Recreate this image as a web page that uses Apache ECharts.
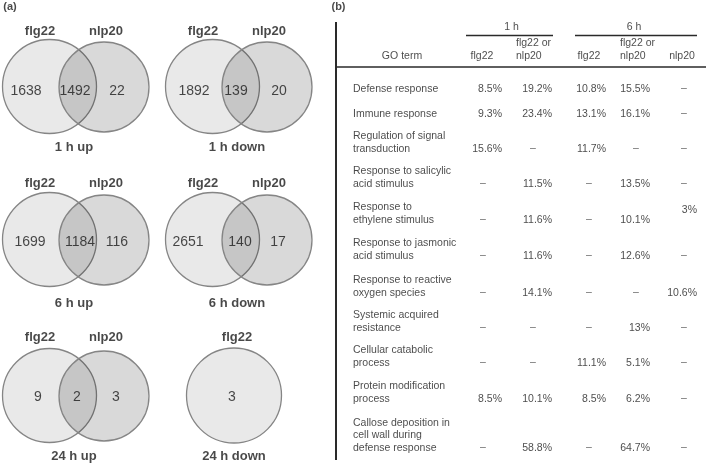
<!DOCTYPE html>
<html><head><meta charset="utf-8">
<script src="https://cdn.jsdelivr.net/npm/echarts@6/dist/echarts.min.js"></script>
<style>html,body{margin:0;padding:0;background:#fff}#c{width:709px;height:466px}</style>
</head><body><div id="c"></div>
<script>
// ---------------- DATA ----------------
const vennTitles = ['1 h up', '1 h down', '6 h up', '6 h down', '24 h up', '24 h down'];
const vennSets = [['flg22', 'nlp20'], ['flg22', 'nlp20'], ['flg22', 'nlp20'], ['flg22', 'nlp20'], ['flg22', 'nlp20'], ['flg22']];
const flg22Only = [1638, 1892, 1699, 2651, 9, 3];
const sharedCounts = [1492, 139, 1184, 140, 2, null];
const nlp20Only = [22, 20, 116, 17, 3, null];

const timeGroups = ['1 h', '6 h'];
const columnHeaders = ['flg22', 'flg22 or\nnlp20', 'flg22', 'flg22 or\nnlp20', 'nlp20'];
const goTerms = [
  'Defense response',
  'Immune response',
  'Regulation of signal\ntransduction',
  'Response to salicylic\nacid stimulus',
  'Response to\nethylene stimulus',
  'Response to jasmonic\nacid stimulus',
  'Response to reactive\noxygen species',
  'Systemic acquired\nresistance',
  'Cellular catabolic\nprocess',
  'Protein modification\nprocess',
  'Callose deposition in\ncell wall during\ndefense response'
];
const flg22_1h  = [8.5, 9.3, 15.6, null, null, null, null, null, null, 8.5, null];
const either_1h = [19.2, 23.4, null, 11.5, 11.6, 11.6, 14.1, null, null, 10.1, 58.8];
const flg22_6h  = [10.8, 13.1, 11.7, null, null, null, null, null, 11.1, 8.5, null];
const either_6h = [15.5, 16.1, null, 13.5, 10.1, 12.6, null, 13, 5.1, 6.2, 64.7];
const nlp20_6h  = [null, null, null, null, 3, null, 10.6, null, null, null, null];

// ---------------- LAYOUT ----------------
const FONT = '"Liberation Sans", Arial, Helvetica, sans-serif';
const W = 709, H = 466;
const colOffsetX = [0, 163];
const rowCircleY = [86.5, 239.5, 395.5];
const rowLabelY = [31, 183, 337];
const rowNumY = [91, 242, 397];
const rowTitleY = [147, 303, 456];
const leftCircle = { dx: 49.5, d: 94 };
const rightCircle = { dx: 104, d: 90, dy: 0.5 };
const singleCircle = { dx: 71, d: 95 };
const setLabelDx = [40, 106];
const singleLabelDx = 74;
const titleDx = 74;
const singleTitleDx = 71;
const numXs = [[26, 75, 117], [194, 236, 279], [30, 80, 117], [188, 240, 278], [38, 77, 116], [232]];

const tableTextX = 353;
const rowLastY = [89, 114, 149, 184, 220, 256, 293, 328, 363, 399, 448];
const lineH = 12.5;
const valueRightX = [502, 552, 606, 650, 697];
const dashX = [483, 533, 589, 636, 684];
const cellDy = { '4,4': -10 };
const headerCenterX = [482, null, 589, null, 682];
const headerLeftX = [null, 516, null, 620, null];
const groupCenterX = [511.5, 634];

// ---------------- BUILD ----------------
const circles = [];
const texts = [];
function addText(x, y, text, opt) {
  texts.push({ value: [x, y], name: String(text), label: Object.assign({}, opt) });
}
const bold13 = { fontSize: 13, fontWeight: 'bold', color: '#1a1a1a' };
const num14 = { fontSize: 14, color: '#1a1a1a' };

vennTitles.forEach((title, i) => {
  const col = i % 2, row = Math.floor(i / 2);
  const ox = colOffsetX[col];
  const cy = rowCircleY[row];
  if (vennSets[i].length === 2) {
    circles.push({ value: [ox + leftCircle.dx, cy, leftCircle.d], itemStyle: { color: 'rgba(0,0,0,0.085)' } });
    circles.push({ value: [ox + rightCircle.dx, cy + rightCircle.dy, rightCircle.d], itemStyle: { color: 'rgba(0,0,0,0.15)' } });
    addText(ox + setLabelDx[0], rowLabelY[row], vennSets[i][0], bold13);
    addText(ox + setLabelDx[1], rowLabelY[row], vennSets[i][1], bold13);
    addText(numXs[i][0], rowNumY[row], flg22Only[i], num14);
    addText(numXs[i][1], rowNumY[row], sharedCounts[i], num14);
    addText(numXs[i][2], rowNumY[row], nlp20Only[i], num14);
    addText(ox + titleDx, rowTitleY[row], title, bold13);
  } else {
    circles.push({ value: [ox + singleCircle.dx, cy, singleCircle.d], itemStyle: { color: 'rgba(0,0,0,0.085)' } });
    addText(ox + singleLabelDx, rowLabelY[row], vennSets[i][0], bold13);
    addText(numXs[i][0], rowNumY[row], flg22Only[i], num14);
    addText(ox + singleTitleDx, rowTitleY[row], title, bold13);
  }
});

addText(10, 7, '(a)', { fontSize: 11, fontWeight: 'bold', color: '#1a1a1a' });
addText(338.5, 7, '(b)', { fontSize: 11, fontWeight: 'bold', color: '#1a1a1a' });

const t = { fontSize: 10.5, color: '#1a1a1a', lineHeight: lineH };
timeGroups.forEach((g, k) => addText(groupCenterX[k], 27, g, t));
addText(402, 56, 'GO term', t);
columnHeaders.forEach((h, c) => {
  const n = h.split('\n').length;
  const y = 56 - (n - 1) * lineH / 2;
  if (headerCenterX[c] != null) addText(headerCenterX[c], y, h, t);
  else addText(headerLeftX[c], y, h, Object.assign({}, t, { align: 'left' }));
});

const valueCols = [flg22_1h, either_1h, flg22_6h, either_6h, nlp20_6h];
goTerms.forEach((term, r) => {
  const n = term.split('\n').length;
  addText(tableTextX, rowLastY[r] - (n - 1) * lineH / 2, term, Object.assign({}, t, { align: 'left' }));
  valueCols.forEach((col, c) => {
    const v = col[r];
    if (v == null) {
      addText(dashX[c], rowLastY[r] - 1, '–', Object.assign({}, t, { color: '#444' }));
    } else {
      const dy = cellDy[r + ',' + c] || 0;
      addText(valueRightX[c], rowLastY[r] + dy, v + '%', Object.assign({}, t, { align: 'right' }));
    }
  });
});

const rules = [
  { coords: [[336, 22], [336, 460]], lineStyle: { width: 2 } },
  { coords: [[336, 67], [706, 67]], lineStyle: { width: 1.5 } },
  { coords: [[466, 35], [553, 35]], lineStyle: { width: 1.3 } },
  { coords: [[575, 35], [697, 35]], lineStyle: { width: 1.3 } }
];

const chart = echarts.init(document.getElementById('c'), null, { renderer: 'canvas' });
chart.setOption({
  animation: false,
  backgroundColor: '#fff',
  grid: { left: 0, right: 0, top: 0, bottom: 0, containLabel: false },
  xAxis: { type: 'value', min: 0, max: W, show: false },
  yAxis: { type: 'value', min: 0, max: H, inverse: true, show: false },
  series: [
    {
      type: 'scatter', silent: true, clip: false, z: 2,
      symbol: 'circle',
      symbolSize: v => v[2],
      itemStyle: { borderColor: '#858585', borderWidth: 1.3, opacity: 1 },
      data: circles
    },
    {
      type: 'lines', coordinateSystem: 'cartesian2d', silent: true, z: 3,
      lineStyle: { color: '#2a2a2a', width: 1.3, opacity: 1 },
      data: rules
    },
    {
      type: 'scatter', silent: true, clip: false, z: 5,
      symbolSize: 1,
      itemStyle: { color: 'rgba(0,0,0,0)' },
      label: { show: true, position: 'inside', formatter: p => p.name, fontFamily: FONT, color: '#1a1a1a', verticalAlign: 'middle' },
      data: texts
    }
  ]
});
</script>
</body></html>
